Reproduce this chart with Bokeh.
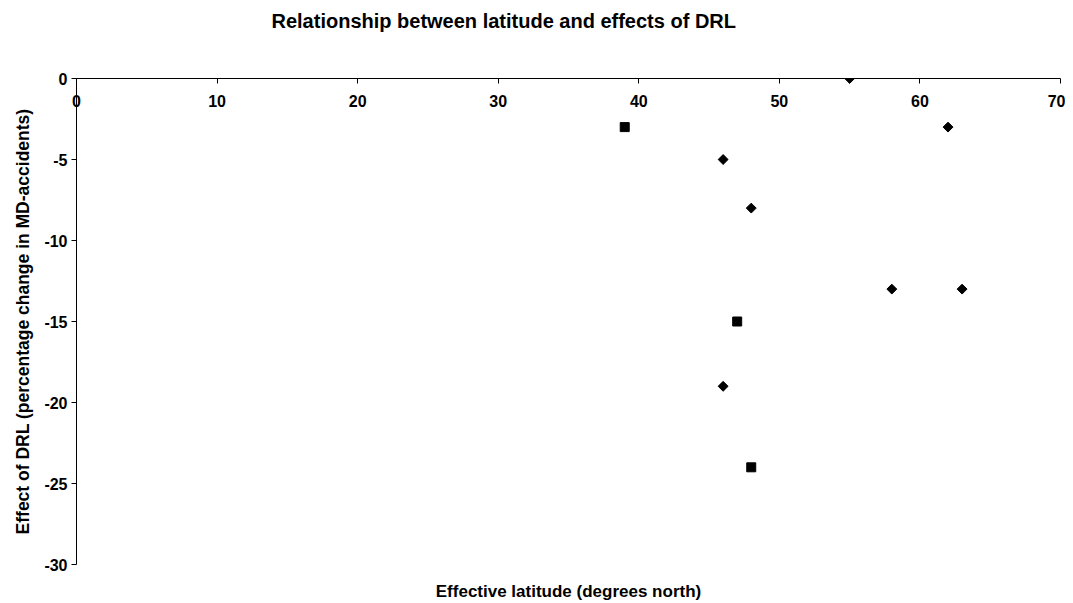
from bokeh.plotting import figure
from bokeh.models import Title, FixedTicker, PrintfTickFormatter, LinearAxis
from bokeh.embed import file_html
from bokeh.resources import INLINE

# data
diamond_lat = [55, 62, 46, 48, 58, 63, 46]
diamond_eff = [0, -3, -5, -8, -13, -13, -19]
square_lat = [39, 47, 48]
square_eff = [-3, -15, -24]
x_ticks = [0, 10, 20, 30, 40, 50, 60, 70]
y_ticks = [-30, -25, -20, -15, -10, -5, 0]

FONT = "Liberation Sans"

p = figure(width=1065, height=603, x_range=(0, 70), y_range=(-30, 0),
           x_axis_location="above", output_backend="svg", toolbar_location=None,
           min_border_left=76, min_border_right=5, min_border_top=78, min_border_bottom=37)

p.title.text = ""
p.xgrid.visible = False
p.ygrid.visible = False
p.outline_line_color = None
p.background_fill_color = "white"
p.border_fill_color = "white"

xa = p.xaxis[0]
xa.ticker = FixedTicker(ticks=x_ticks)
xa.formatter = PrintfTickFormatter(format="%d")
xa.major_tick_in = 5
xa.major_tick_out = 0
xa.minor_tick_line_color = None
xa.major_label_standoff = -28
xa.major_label_text_font = FONT
xa.major_label_text_font_size = "16px"
xa.major_label_text_font_style = "bold"
xa.major_label_text_color = "black"
xa.axis_line_color = "black"
xa.major_tick_line_color = "black"

ya = p.yaxis[0]
ya.ticker = FixedTicker(ticks=y_ticks)
ya.formatter = PrintfTickFormatter(format="%d")
ya.major_tick_in = 0
ya.major_tick_out = 5
ya.minor_tick_line_color = None
ya.major_label_standoff = 4
ya.major_label_text_font = FONT
ya.major_label_text_font_size = "16px"
ya.major_label_text_font_style = "bold"
ya.major_label_text_color = "black"
ya.axis_line_color = "black"
ya.major_tick_line_color = "black"
ya.axis_label = "Effect of DRL (percentage change in MD-accidents)"
ya.axis_label_text_font = FONT
ya.axis_label_text_font_size = "17.5px"
ya.axis_label_text_font_style = "bold"
ya.axis_label_text_color = "black"
ya.axis_label_standoff = 8

# bottom axis used only for its label
xb = LinearAxis(ticker=FixedTicker(ticks=[]), axis_line_color=None,
                major_tick_line_color=None, minor_tick_line_color=None,
                major_label_text_font_size="0px", major_label_standoff=0,
                axis_label="Effective latitude (degrees north)",
                axis_label_text_font=FONT, axis_label_text_font_size="17px",
                axis_label_text_font_style="bold", axis_label_text_color="black",
                axis_label_standoff=17)
p.add_layout(xb, "below")

# white (invisible) spacer between the top axis and the title
spacer = Title(text=".", text_font=FONT, text_font_size="10px", text_color="white")
main_title = Title(text="Relationship between latitude and effects of DRL", align="left",
                   offset=195, text_font=FONT, text_font_size="20px",
                   text_font_style="bold", text_color="black")
if "standoff" in Title.properties():
    spacer.standoff = 37
    main_title.standoff = 0
p.add_layout(spacer, "above")
p.add_layout(main_title, "above")

p.scatter(diamond_lat, diamond_eff, marker="square", angle=0.7853981634, size=7,
          fill_color="black", line_color="black")
p.scatter(square_lat, square_eff, marker="square", size=9,
          fill_color="black", line_color="black")

open("out.html", "w").write(file_html(p, INLINE))
